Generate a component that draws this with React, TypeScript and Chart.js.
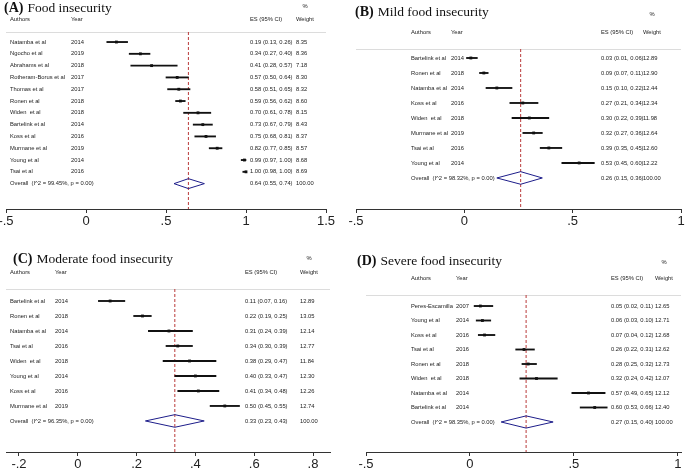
import React, { useEffect, useRef } from "react";
import { Chart, registerables } from "chart.js";
Chart.register(...registerables);

// ---------- Panel A: Food insecurity ----------
const titleA = ["(A)", "Food insecurity"];
const authorsA = ["Natamba et al", "Ngocho et al", "Abrahams et al", "Rotheram-Borus et al", "Thomas et al", "Ronen et al", "Widen  et al", "Bartelink et al", "Koss et al", "Murmane et al", "Young et al", "Tsai et al"];
const yearsA = ["2014", "2019", "2018", "2017", "2017", "2018", "2018", "2014", "2016", "2019", "2014", "2016"];
const esA = [0.19, 0.34, 0.41, 0.57, 0.58, 0.59, 0.70, 0.73, 0.75, 0.82, 0.99, 1.00];
const loA = [0.13, 0.27, 0.28, 0.50, 0.51, 0.56, 0.61, 0.67, 0.68, 0.77, 0.97, 0.98];
const hiA = [0.26, 0.40, 0.57, 0.64, 0.65, 0.62, 0.78, 0.79, 0.81, 0.85, 1.00, 1.00];
const wA = [8.35, 8.36, 7.18, 8.30, 8.32, 8.60, 8.15, 8.43, 8.37, 8.57, 8.68, 8.69];
const overallA = [0.64, 0.55, 0.74];
const i2A = "99.45";
const ticksA = [-0.5, 0, 0.5, 1, 1.5];

// ---------- Panel B: Mild food insecurity ----------
const titleB = ["(B)", "Mild food insecurity"];
const authorsB = ["Bartelink et al", "Ronen et al", "Natamba et al", "Koss et al", "Widen  et al", "Murmane et al", "Tsai et al", "Young et al"];
const yearsB = ["2014", "2018", "2014", "2016", "2018", "2019", "2016", "2014"];
const esB = [0.03, 0.09, 0.15, 0.27, 0.30, 0.32, 0.39, 0.53];
const loB = [0.01, 0.07, 0.10, 0.21, 0.22, 0.27, 0.35, 0.45];
const hiB = [0.06, 0.11, 0.22, 0.34, 0.39, 0.36, 0.45, 0.60];
const wB = [12.89, 12.90, 12.44, 12.34, 11.98, 12.64, 12.60, 12.22];
const overallB = [0.26, 0.15, 0.36];
const i2B = "98.32";
const ticksB = [-0.5, 0, 0.5, 1];

// ---------- Panel C: Moderate food insecurity ----------
const titleC = ["(C)", "Moderate food insecurity"];
const authorsC = ["Bartelink et al", "Ronen et al", "Natamba et al", "Tsai et al", "Widen  et al", "Young et al", "Koss et al", "Murmane et al"];
const yearsC = ["2014", "2018", "2014", "2016", "2018", "2014", "2016", "2019"];
const esC = [0.11, 0.22, 0.31, 0.34, 0.38, 0.40, 0.41, 0.50];
const loC = [0.07, 0.19, 0.24, 0.30, 0.29, 0.33, 0.34, 0.45];
const hiC = [0.16, 0.25, 0.39, 0.39, 0.47, 0.47, 0.48, 0.55];
const wC = [12.89, 13.05, 12.14, 12.77, 11.84, 12.30, 12.26, 12.74];
const overallC = [0.33, 0.23, 0.43];
const i2C = "96.35";
const ticksC = [-0.2, 0, 0.2, 0.4, 0.6, 0.8];

// ---------- Panel D: Severe food insecurity ----------
const titleD = ["(D)", "Severe food insecurity"];
const authorsD = ["Peres-Escamilla", "Young et al", "Koss et al", "Tsai et al", "Ronen et al", "Widen  et al", "Natamba et al", "Bartelink et al"];
const yearsD = ["2007", "2014", "2016", "2016", "2018", "2018", "2014", "2014"];
const esD = [0.05, 0.06, 0.07, 0.26, 0.28, 0.32, 0.57, 0.60];
const loD = [0.02, 0.03, 0.04, 0.22, 0.25, 0.24, 0.49, 0.53];
const hiD = [0.11, 0.10, 0.12, 0.31, 0.32, 0.42, 0.65, 0.66];
const wD = [12.65, 12.71, 12.68, 12.62, 12.73, 12.07, 12.12, 12.40];
const overallD = [0.27, 0.15, 0.40];
const i2D = "98.35";
const ticksD = [-0.5, 0, 0.5, 1];

const SANS = "'Liberation Sans', Arial, Helvetica, sans-serif";
const SERIF = "'Liberation Serif', 'Times New Roman', serif";
const TXT = 5.8;

type Panel = {
  key: string;
  title: string[];
  authors: string[];
  years: string[];
  es: number[];
  lo: number[];
  hi: number[];
  w: number[];
  overall: number[];
  i2: string;
  ticks: number[];
  box: { left: number; top: number; w: number; h: number };
  area: { l: number; r: number; t: number; b: number };
  xr: number[];
  yr: number[];
  cols: { author: number; year: number; es: number; weight: number };
  headerY: number;
  pctY: number;
  titlePos: number[];
};

const panels: Panel[] = [
  {
    key: "A", title: titleA, authors: authorsA, years: yearsA, es: esA, lo: loA, hi: hiA, w: wA,
    overall: overallA, i2: i2A, ticks: ticksA,
    box: { left: 0, top: 0, w: 340, h: 235 },
    area: { l: 6, r: 326, t: 32, b: 209 },
    xr: [-0.5, 1.5], yr: [-0.85, 14.15],
    cols: { author: 10, year: 71, es: 250, weight: 296 },
    headerY: 19, pctY: 6, titlePos: [4, 8],
  },
  {
    key: "B", title: titleB, authors: authorsB, years: yearsB, es: esB, lo: loB, hi: hiB, w: wB,
    overall: overallB, i2: i2B, ticks: ticksB,
    box: { left: 340, top: 0, w: 345, h: 235 },
    area: { l: 16, r: 344, t: 49, b: 209 },
    xr: [-0.5, 1.0], yr: [-0.6, 10.07],
    cols: { author: 71, year: 111, es: 261, weight: 303 },
    headerY: 32, pctY: 14, titlePos: [15, 12],
  },
  {
    key: "C", title: titleC, authors: authorsC, years: yearsC, es: esC, lo: loC, hi: hiC, w: wC,
    overall: overallC, i2: i2C, ticks: ticksC,
    box: { left: 0, top: 235, w: 340, h: 234 },
    area: { l: 6, r: 330, t: 54, b: 217 },
    xr: [-0.2442, 0.8578], yr: [-0.8, 10.07],
    cols: { author: 10, year: 55, es: 245, weight: 300 },
    headerY: 37, pctY: 23, titlePos: [13, 24],
  },
  {
    key: "D", title: titleD, authors: authorsD, years: yearsD, es: esD, lo: loD, hi: hiD, w: wD,
    overall: overallD, i2: i2D, ticks: ticksD,
    box: { left: 340, top: 235, w: 345, h: 234 },
    area: { l: 26, r: 344, t: 60, b: 217 },
    xr: [-0.5, 1.015], yr: [-0.76, 10.07],
    cols: { author: 71, year: 116, es: 271, weight: 315 },
    headerY: 43, pctY: 27, titlePos: [17, 26],
  },
];

const fmtTick = (v: number) => {
  const s = String(Math.round(v * 10) / 10);
  return s.replace(/^(-?)0\./, "$1.");
};
const ciText = (e: number, l: number, h: number) => `${e.toFixed(2)} (${l.toFixed(2)}, ${h.toFixed(2)})`;

function makePlugin(p: Panel) {
  return {
    id: "forestText" + p.key,
    beforeDatasetsDraw(chart: any) {
      const ctx = chart.ctx;
      const a = chart.chartArea;
      ctx.save();
      ctx.strokeStyle = "#dcdcdc";
      ctx.lineWidth = 1;
      ctx.beginPath();
      ctx.moveTo(a.left, Math.round(a.top) + 0.5);
      ctx.lineTo(a.right, Math.round(a.top) + 0.5);
      ctx.stroke();
      ctx.restore();
    },
    afterDraw(chart: any) {
      const ctx = chart.ctx;
      const ys = chart.scales.y;
      const n = p.authors.length;
      ctx.save();
      // title
      ctx.fillStyle = "#111";
      ctx.textBaseline = "middle";
      ctx.textAlign = "left";
      ctx.font = `bold 14px ${SERIF}`;
      ctx.fillText(p.title[0], p.titlePos[0], p.titlePos[1]);
      const tw = ctx.measureText(p.title[0]).width;
      ctx.font = `13.5px ${SERIF}`;
      ctx.fillText(p.title[1], p.titlePos[0] + tw + 4, p.titlePos[1]);
      // headers
      ctx.fillStyle = "#222";
      ctx.font = `${TXT}px ${SANS}`;
      ctx.fillText("Authors", p.cols.author, p.headerY);
      ctx.fillText("Year", p.cols.year, p.headerY);
      ctx.fillText("ES (95% CI)", p.cols.es, p.headerY);
      ctx.fillText("Weight", p.cols.weight, p.headerY);
      const ww = ctx.measureText("Weight").width;
      ctx.textAlign = "center";
      ctx.fillText("%", p.cols.weight + ww / 2, p.pctY);
      ctx.textAlign = "left";
      // rows
      for (let i = 0; i < n; i++) {
        const y = ys.getPixelForValue(i);
        ctx.fillText(p.authors[i], p.cols.author, y);
        ctx.fillText(p.years[i], p.cols.year, y);
        ctx.fillText(ciText(p.es[i], p.lo[i], p.hi[i]), p.cols.es, y);
        ctx.fillText(p.w[i].toFixed(2), p.cols.weight, y);
      }
      const yo = ys.getPixelForValue(n);
      ctx.fillText(`Overall  (I^2 = ${p.i2}%, p = 0.00)`, p.cols.author, yo);
      ctx.fillText(ciText(p.overall[0], p.overall[1], p.overall[2]), p.cols.es, yo);
      ctx.fillText((100).toFixed(2), p.cols.weight, yo);
      ctx.restore();
    },
  };
}

function makeConfig(p: Panel): any {
  const n = p.authors.length;
  const ciData = p.authors.map((_, i) => ({ x: [p.lo[i], p.hi[i]], y: i }));
  const ptData = p.es.map((v, i) => ({ x: v, y: i }));
  const dh = 0.42;
  const diamond = [
    { x: p.overall[1], y: n },
    { x: p.overall[0], y: n - dh },
    { x: p.overall[2], y: n },
    { x: p.overall[0], y: n + dh },
    { x: p.overall[1], y: n },
  ];
  const refLine = [
    { x: p.overall[0], y: p.yr[0] },
    { x: p.overall[0], y: p.yr[1] },
  ];
  const axisH = p.box.h - p.area.b;
  return {
    type: "scatter",
    data: {
      datasets: [
        {
          type: "bar",
          indexAxis: "y",
          data: ciData,
          backgroundColor: "#111",
          barThickness: 1.2,
          borderWidth: 0,
        },
        {
          type: "scatter",
          data: ptData,
          pointStyle: "rect",
          pointRadius: 2,
          backgroundColor: "#111",
          borderColor: "#111",
          borderWidth: 0,
        },
        {
          type: "scatter",
          data: diamond,
          showLine: true,
          borderColor: "#1d1d8a",
          borderWidth: 1,
          pointRadius: 0,
          fill: false,
          tension: 0,
        },
        {
          type: "scatter",
          data: refLine,
          showLine: true,
          borderColor: "#b93a3a",
          borderDash: [3, 2],
          borderWidth: 1,
          pointRadius: 0,
          fill: false,
        },
      ],
    },
    options: {
      responsive: false,
      animation: false,
      events: [],
      layout: { padding: { left: p.area.l, right: p.box.w - p.area.r, top: p.area.t, bottom: 0 } },
      plugins: { legend: { display: false }, tooltip: { enabled: false } },
      scales: {
        x: {
          type: "linear",
          min: p.xr[0],
          max: p.xr[1],
          bounds: "data",
          offset: false,
          beginAtZero: false,
          afterBuildTicks: (s: any) => {
            s.ticks = p.ticks.map((v) => ({ value: v }));
          },
          afterFit: (s: any) => {
            s.height = axisH;
            s.paddingLeft = 0;
            s.paddingRight = 0;
          },
          ticks: {
            autoSkip: false,
            maxRotation: 0,
            minRotation: 0,
            padding: 1,
            color: "#222",
            font: { family: SANS, size: 13 },
            callback: (v: any) => fmtTick(Number(v)),
          },
          grid: { drawOnChartArea: false, drawTicks: true, tickLength: 4, color: "#333", offset: false },
          border: { display: true, color: "#333", width: 1 },
        },
        y: {
          type: "linear",
          display: false,
          min: p.yr[0],
          max: p.yr[1],
          reverse: true,
          offset: false,
          beginAtZero: false,
          grid: { offset: false },
        },
      },
    },
    plugins: [makePlugin(p)],
  };
}

function ForestPanel({ p }: { p: Panel }) {
  const ref = useRef<HTMLCanvasElement>(null);
  useEffect(() => {
    if (!ref.current) return;
    const chart = new Chart(ref.current, makeConfig(p));
    return () => chart.destroy();
  }, [p]);
  return (
    <canvas
      ref={ref}
      width={p.box.w}
      height={p.box.h}
      style={{ position: "absolute", left: p.box.left, top: p.box.top, width: p.box.w, height: p.box.h }}
    />
  );
}

export default function App() {
  return (
    <div style={{ position: "absolute", left: 0, top: 0, width: 685, height: 469, background: "#fff", overflow: "hidden" }}>
      {panels.map((p) => (
        <ForestPanel key={p.key} p={p} />
      ))}
    </div>
  );
}
